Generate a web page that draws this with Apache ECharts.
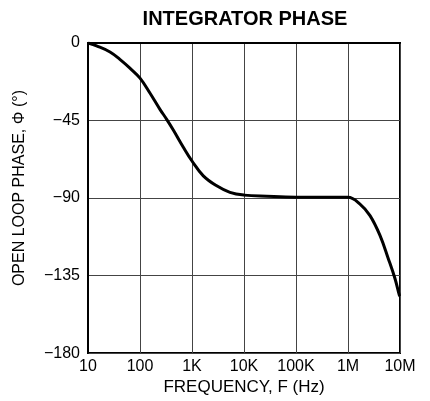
<!DOCTYPE html>
<html>
<head>
<meta charset="utf-8">
<script src="https://cdn.jsdelivr.net/npm/echarts@6/dist/echarts.min.js"></script>
<style>
html,body{margin:0;padding:0;background:#fff;}
#chart{width:430px;height:401px;}
</style>
</head>
<body>
<div id="chart"></div>
<script>
const titleText = 'INTEGRATOR PHASE';
const xAxisName = 'FREQUENCY, F (Hz)';
const yAxisName = 'OPEN LOOP PHASE, \u03A6 (\u00B0)';
const xTickValues = [10, 100, 1000, 10000, 100000, 1000000, 10000000];
const xTickLabels = ['10', '100', '1K', '10K', '100K', '1M', '10M'];
const frequency = [10, 15, 26.5, 41, 64, 100, 155, 242, 326, 437, 681, 1000, 1650, 2985, 5370, 10000, 27400, 100000, 300000, 1000000, 1700000, 2650000, 4120000, 5960000, 8000000, 9700000, 10000000];
const phase = [0, -1.8, -5.2, -9.5, -14.6, -20.4, -29.0, -38.5, -44.3, -50.5, -60.5, -68.5, -77.1, -82.9, -86.7, -88.3, -89.0, -89.5, -89.5, -89.6, -93.5, -100.2, -111.7, -125.2, -136.7, -146.4, -147];

const seriesData = frequency.map((f, i) => [f, phase[i]]);
const font = 'Liberation Sans, Arial, Helvetica, sans-serif';

const chart = echarts.init(document.getElementById('chart'), null, {renderer: 'canvas'});
chart.setOption({
  animation: false,
  backgroundColor: '#fff',
  title: {
    text: titleText,
    left: 240,
    textAlign: 'center',
    top: 4,
    textStyle: {fontFamily: font, fontSize: 20, fontWeight: 'bold', color: '#000'}
  },
  grid: {
    left: 88, right: 30, top: 43, bottom: 46,
    show: true, borderColor: '#000', borderWidth: 2, backgroundColor: 'transparent'
  },
  xAxis: {
    type: 'log',
    logBase: 10,
    min: 10,
    max: 10000000,
    name: xAxisName,
    nameLocation: 'middle',
    nameGap: 25,
    nameTextStyle: {fontFamily: font, fontSize: 17, color: '#000'},
    axisLine: {show: true, lineStyle: {color: '#000', width: 2}},
    axisTick: {show: false},
    axisLabel: {
      fontFamily: font, fontSize: 16, color: '#000', margin: 5,
      formatter: function (v) {
        for (let i = 0; i < xTickValues.length; i++) {
          if (Math.abs(Math.log10(v) - Math.log10(xTickValues[i])) < 1e-6) return xTickLabels[i];
        }
        return '';
      }
    },
    splitLine: {show: true, lineStyle: {color: '#444', width: 1}},
    minorTick: {show: false},
    minorSplitLine: {show: false}
  },
  yAxis: {
    type: 'value',
    min: -180,
    max: 0,
    interval: 45,
    name: yAxisName,
    nameLocation: 'middle',
    nameGap: 60,
    nameTextStyle: {fontFamily: font, fontSize: 16, color: '#000', padding: [0, 0, 0, 20]},
    axisLine: {show: true, lineStyle: {color: '#000', width: 2}},
    axisTick: {show: false},
    axisLabel: {
      fontFamily: font, fontSize: 16, color: '#000', margin: 8,
      formatter: function (v) { return String(v).replace('-', '\u2212'); }
    },
    splitLine: {show: true, lineStyle: {color: '#444', width: 1}}
  },
  series: [{
    type: 'line',
    data: seriesData,
    smooth: 0.4,
    showSymbol: false,
    symbol: 'none',
    clip: true,
    lineStyle: {color: '#000', width: 3}
  }]
});
</script>
</body>
</html>
